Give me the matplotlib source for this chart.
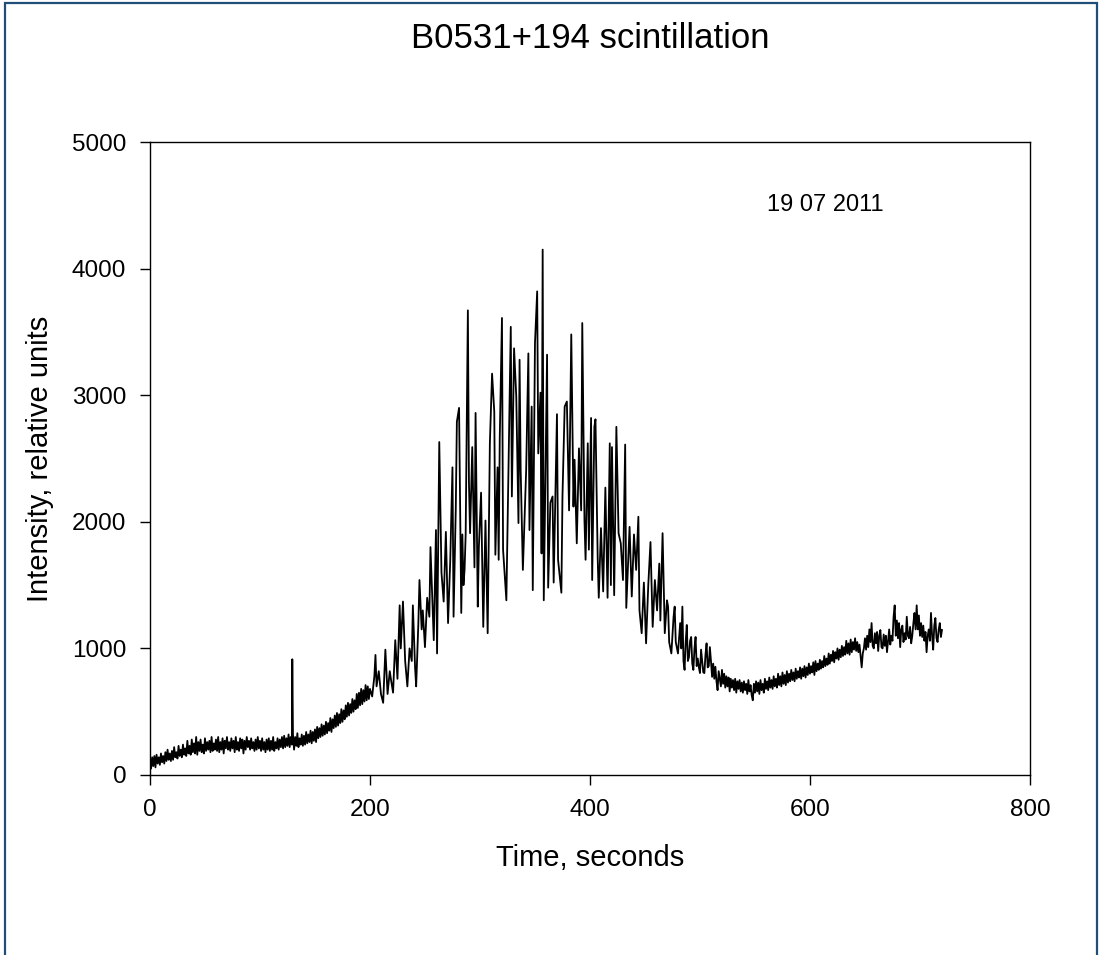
import numpy as np
import matplotlib
matplotlib.use("Agg")
import matplotlib.pyplot as plt
from matplotlib.patches import Rectangle

plt.rcParams['font.family'] = ['Liberation Sans', 'DejaVu Sans']

# quiet start, 0-200 s, one value per second
early_t = np.arange(0, 201)
early_i = [110, 50, 140, 70, 150, 60, 160, 90, 140, 80,
           170, 100, 150, 90, 180, 110, 200, 120, 170, 110,
           190, 120, 220, 140, 180, 130, 230, 150, 200, 140,
           240, 160, 210, 150, 270, 170, 230, 160, 280, 180,
           250, 170, 300, 160, 260, 190, 280, 180, 240, 170,
           290, 190, 260, 200, 270, 180, 300, 190, 250, 200,
           280, 190, 300, 180, 260, 200, 290, 170, 270, 210,
           300, 200, 260, 190, 290, 210, 270, 180, 300, 200,
           260, 190, 290, 210, 280, 170, 270, 200, 300, 220,
           270, 200, 290, 210, 260, 190, 280, 200, 300, 210,
           270, 190, 290, 200, 260, 180, 280, 200, 290, 190,
           270, 200, 300, 190, 260, 210, 290, 200, 280, 220,
           300, 210, 310, 220, 290, 230, 320, 220, 300, 240,
           320, 200, 300, 230, 330, 220, 290, 240, 320, 230,
           310, 240, 340, 250, 320, 260, 350, 250, 340, 270,
           360, 260, 380, 290, 370, 300, 400, 310, 390, 320,
           420, 330, 410, 350, 450, 340, 440, 370, 470, 380,
           490, 390, 480, 410, 520, 420, 510, 440, 550, 460,
           570, 470, 560, 490, 600, 500, 590, 520, 640, 530,
           650, 550, 680, 560, 670, 580, 710, 590, 700, 600,
           680]

# single spike near 130 s
spike_t = [129.4]
spike_i = [914]

# scintillation burst
burst_t = [202, 204, 205, 206, 208, 210, 212, 214, 216, 218,
           219, 221, 223, 225, 227, 228, 230, 232, 234, 236,
           238, 239, 241, 242, 244, 245, 247, 248, 250, 252,
           254, 255, 257, 258, 260, 261, 263, 265, 267, 269,
           271, 273, 274, 275, 276, 278, 279, 281, 283, 284,
           285, 286, 287, 289, 290, 291, 293, 295, 296, 298,
           299, 301, 303, 305, 307, 309, 311, 313, 314, 316,
           317, 318, 320, 321, 323, 324, 326, 328, 329, 331,
           333, 335, 336, 337, 339, 342, 344, 345, 347, 348,
           350, 352, 353, 355, 356, 357, 358, 361, 362, 364,
           366, 367, 370, 371, 374, 375, 377, 379, 381, 383,
           385, 386, 388, 390, 392, 393, 395, 396, 398, 399,
           401, 402, 404, 405, 407, 408, 410, 412, 414, 416,
           418, 419, 420, 422, 424, 426, 428, 430, 432, 433,
           436, 438, 440, 442, 444, 445, 447, 449, 451, 453,
           455, 457, 459, 461, 463, 464, 466, 468, 470, 471,
           472, 474, 476, 477, 478, 480]
burst_i = [620, 780, 948, 700, 820, 640, 570, 990, 640, 820,
           760, 650, 1065, 760, 1340, 1000, 1370, 900, 700, 1000,
           900, 1340, 850, 700, 1200, 1540, 1150, 1300, 1010, 1400,
           1250, 1800, 1300, 1065, 1935, 960, 2630, 1600, 1370, 1920,
           1200, 1700, 2080, 2430, 1250, 2100, 2790, 2900, 1280, 1900,
           1500, 1620, 1900, 3670, 2300, 1910, 2590, 1640, 2860, 1330,
           1800, 2230, 1170, 2010, 1120, 2620, 3170, 2870, 1740, 2430,
           1700, 2670, 3610, 1780, 1520, 1380, 2460, 3540, 2200, 3370,
           2990, 1990, 3280, 2410, 1620, 2410, 3330, 1935, 2910, 1460,
           3410, 3820, 2540, 3020, 1750, 4150, 1380, 3320, 1480, 2150,
           2200, 1520, 2850, 1700, 1440, 2200, 2910, 2950, 2090, 3480,
           2120, 2490, 1830, 2580, 2090, 3570, 2010, 1700, 2620, 1780,
           2820, 1540, 2750, 2810, 1720, 1400, 1950, 1450, 2270, 1400,
           2620, 1500, 2590, 1420, 2750, 1910, 1830, 1540, 2610, 1320,
           1960, 1410, 1900, 1620, 2040, 1300, 1120, 1520, 1040, 1500,
           1840, 1170, 1540, 1300, 1670, 1220, 1910, 1120, 1380, 1330,
           1050, 960, 1250, 1330, 1050, 960]

# decay and slow rise, 482-720 s, one value per second
tail_t = np.arange(482, 721)
tail_i = [1200, 1000, 1330, 900, 830, 1050, 1185, 900, 930, 1060,
          1090, 880, 830, 1000, 1090, 860, 920, 850, 805, 990,
          900, 810, 805, 950, 1040, 850, 860, 1010, 900, 775,
          880, 760, 855, 740, 670, 820, 760, 700, 830, 720,
          800, 690, 780, 700, 770, 660, 760, 690, 750, 670,
          760, 650, 740, 680, 750, 660, 730, 650, 740, 670,
          720, 640, 750, 660, 710, 630, 590, 720, 650, 740,
          660, 730, 640, 750, 670, 720, 650, 760, 680, 740,
          670, 770, 690, 750, 680, 780, 700, 760, 690, 800,
          710, 780, 700, 810, 720, 790, 710, 820, 730, 800,
          740, 830, 750, 810, 740, 840, 760, 820, 770, 850,
          760, 840, 780, 860, 770, 850, 790, 880, 800, 860,
          810, 890, 790, 900, 820, 880, 830, 910, 840, 900,
          850, 940, 860, 920, 870, 960, 880, 950, 900, 980,
          890, 970, 920, 1000, 910, 990, 930, 1020, 940, 1010,
          950, 1060, 960, 1040, 950, 1070, 970, 1050, 990, 1080,
          980, 1050, 970, 1030, 940, 850, 960, 1000, 1080, 990,
          1100, 1010, 1150, 1050, 1200, 1020, 1000, 1120, 1040, 1130,
          980, 1100, 1145, 1010, 1000, 1110, 1020, 1100, 970, 1060,
          1150, 1030, 1100, 1060, 1250, 1340, 1100, 1220, 1080, 1200,
          1010, 1150, 1180, 1050, 1120, 1070, 1250, 1100, 1080, 1170,
          1040, 1100, 1200, 1280, 1150, 1340, 1150, 1260, 1100, 1200,
          1090, 1180, 1060, 1130, 970, 1100, 1150, 1060, 1280, 1100,
          990, 1180, 1240, 1080, 1050, 1150, 1200, 1090, 1145]

x_ticks = [0, 200, 400, 600, 800]
y_ticks = [0, 1000, 2000, 3000, 4000, 5000]

t_all = np.concatenate([early_t, spike_t, burst_t, tail_t])
i_all = np.concatenate([early_i, spike_i, burst_i, tail_i])
order = np.argsort(t_all, kind='stable')
t_all = t_all[order]
i_all = i_all[order]

fig = plt.figure(figsize=(11.01, 9.55), dpi=100)
ax = fig.add_axes([0.1362, 0.1885, 0.7993, 0.6628])

ax.plot(t_all, i_all, color='black', linewidth=1.3)

ax.set_xlim(0, 800)
ax.set_ylim(0, 5000)
ax.set_xticks(x_ticks)
ax.set_yticks(y_ticks)
ax.tick_params(direction='out', length=7, width=1, labelsize=17.5, pad=10)
for sp in ax.spines.values():
    sp.set_linewidth(1)

ax.set_xlabel('Time, seconds', fontsize=21, labelpad=17)
ax.set_ylabel('Intensity, relative units', fontsize=21, labelpad=13)
ax.text(614, 4500, '19 07 2011', fontsize=17, ha='center', va='center')
fig.text(0.536, 0.96, 'B0531+194 scintillation', fontsize=25, ha='center', va='center')

# dark blue frame round the chart
frame = Rectangle((5 / 1101, -0.05), 1092 / 1101, 1.05 - 3 / 955,
                  transform=fig.transFigure, fill=False,
                  edgecolor='#1F4E79', linewidth=1.6)
fig.patches.append(frame)

fig.savefig('out.png', dpi=100)
